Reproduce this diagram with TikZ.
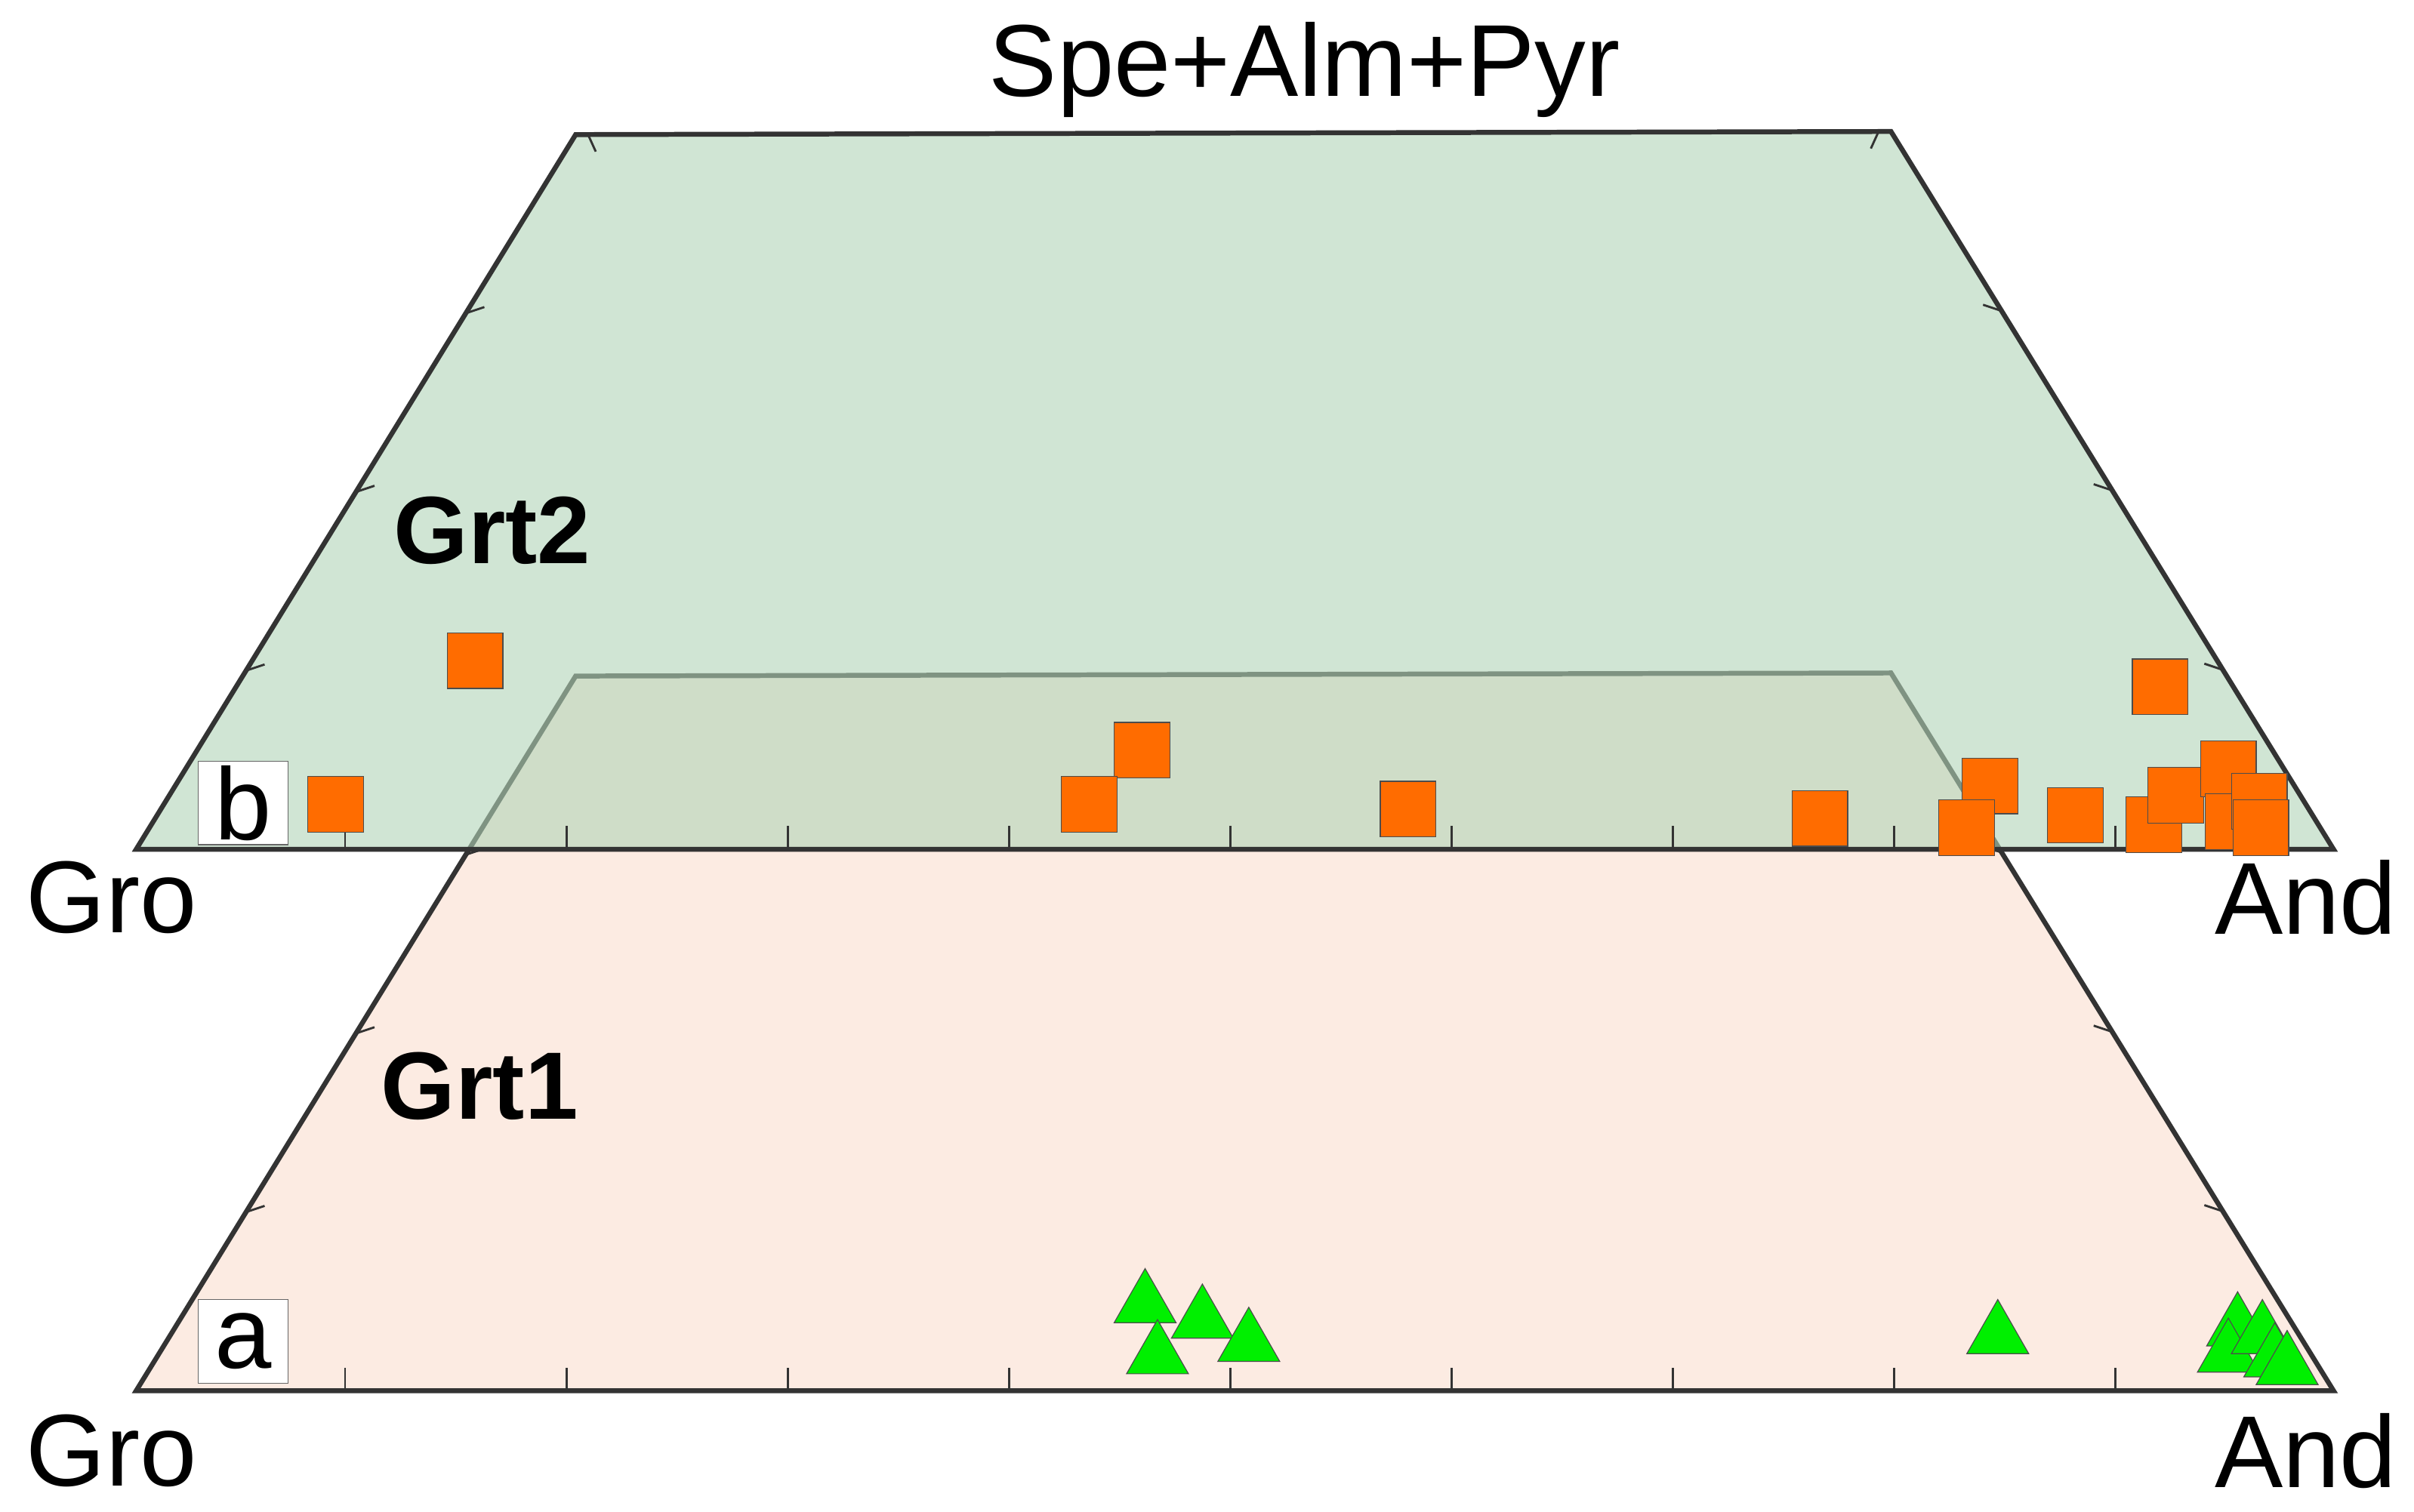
\documentclass[tikz,border=0pt]{standalone}
\usepackage{fontspec}
\setmainfont{Liberation Sans}
\usetikzlibrary{calc}
\begin{document}
\begin{tikzpicture}[x=0.05cm,y=-0.05cm,
  edge/.style={line width=4.5pt,draw=black!80},
  tk/.style={line width=2pt,draw=black!80},
  sq/.style={fill=orange!85!red,draw=black!70,line width=0.8pt},
  tri/.style={fill=green!85!black!40!green,draw=black!70,line width=0.8pt},
  lbl/.style={font=\fontsize{94}{100}\selectfont},
  bl/.style={font=\fontsize{88}{96}\selectfont\bfseries},
  box/.style={draw=black!60,fill=white,line width=0.8pt,minimum width=58*0.05cm,minimum height=54*0.05cm,inner sep=0pt,font=\fontsize{94}{100}\selectfont}]
\useasboundingbox (0,0) rectangle (1560,977);
\fill[white] (0,0) rectangle (1560,977);
% lower trapezoid a
\coordinate (a1) at (88,899); \coordinate (a2) at (1508,899);
\coordinate (a3) at (1222,435); \coordinate (a4) at (372,437);
\filldraw[fill={rgb,255:red,252;green,235;blue,226},edge] (a1)--(a2)--(a3)--(a4)--cycle;
\foreach \i in {1,...,9} \draw[tk] ({80+143*\i},899)--({80+143*\i},884);
\foreach \f in {0.25,0.5,0.75} {
  \draw[tk] ($(a1)!\f!(a4)$) -- ++(12,-4);
  \draw[tk] ($(a2)!\f!(a3)$) -- ++(-12,-4);}
% upper trapezoid b
\coordinate (b1) at (88,549); \coordinate (b2) at (1508,549);
\coordinate (b3) at (1222,85); \coordinate (b4) at (372,87);
\fill[fill={rgb,255:red,178;green,212;blue,184},opacity=0.6] (b1)--(b2)--(b3)--(b4)--cycle;
\draw[edge] (b1)--(b2)--(b3)--(b4)--cycle;
\foreach \i in {1,...,9} \draw[tk] ({80+143*\i},549)--({80+143*\i},534);
\foreach \f in {0.25,0.5,0.75} {
  \draw[tk] ($(b1)!\f!(b4)$) -- ++(12,-4);
  \draw[tk] ($(b2)!\f!(b3)$) -- ++(-12,-4);}
\draw[tk] (380,87)--(385,98); \draw[tk] (1214,85)--(1209,96);
% squares
\foreach \x/\y in {307/427,217/520,738/485,704/520,910/523,1176/529,1286/508,1271/535,1341/527,1396/444,1392/533,1406/514,1440/497,1443/531,1460/518,1461/535}
  \draw[sq] (\x-18,\y-18) rectangle (\x+18,\y+18);
% triangles
\foreach \x/\y in {740/840,777/850,748/873,807/865,1291/860,1446/855,1440/872,1462/860,1470/875,1478/880}
  \draw[tri] (\x,\y-20)--(\x+20,\y+15)--(\x-20,\y+15)--cycle;
% labels
\node[box] (bb) at (157,519) {b};
\node[box] (ba) at (157,867) {a};
\node[bl] (g2) at (318,343) {Grt2};
\node[bl] (g1) at (310,702) {Grt1};
\node[lbl] (top) at (843,45) {Spe+Alm+Pyr};
\node[lbl] (gro2) at (72,580) {Gro};
\node[lbl] (gro1) at (72,938) {Gro};
\node[lbl] (and2) at (1490,580) {And};
\node[lbl] (and1) at (1490,938) {And};
\end{tikzpicture}
\end{document}
